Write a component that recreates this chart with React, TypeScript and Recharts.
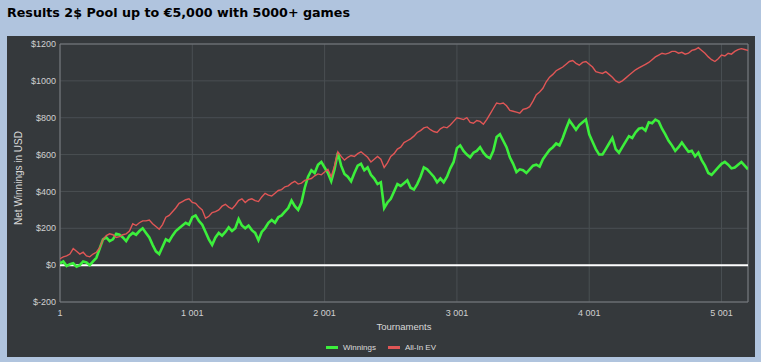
import React from 'react';
import { LineChart, Line, XAxis, YAxis, CartesianGrid, ReferenceLine, ReferenceArea, Legend } from 'recharts';

const title = 'Results 2$ Pool up to €5,000 with 5000+ games';
const seriesNames = ['Winnings', 'All-In EV'];

// Net winnings (USD) every 25 tournaments
const winnings = [
  10, 20, -5, 5, 10, -8, 0, 20, 15, 0, 20, 40,
  90, 140, 150, 130, 140, 170, 165, 150, 130, 160, 175, 165, 185, 200, 175, 150, 110, 75, 60, 100,
  140, 130, 160, 185, 200, 215, 230, 220, 260, 270,
  240, 220, 180, 140, 110, 150, 175, 160, 180, 205, 185, 200, 250, 215, 200, 215, 190, 175, 135, 180,
  200, 230, 245, 230, 260, 270, 290, 310, 350, 320, 300, 340, 420, 480, 515, 500, 545, 560,
  530, 500, 455, 520, 610, 540, 495, 480, 455, 500, 540, 550, 515, 530, 490, 470, 440, 450, 310, 340,
  360, 400, 440, 430, 445, 460, 420, 410, 440, 480, 530, 520, 500, 480, 450, 470, 450, 480, 525, 560,
  635, 650, 620, 600, 585, 610, 620, 640, 610, 590, 580, 620, 695, 710, 675, 640, 585, 550, 505, 520,
  515, 500, 520, 540, 545, 535, 575, 600, 625, 640, 660, 650, 690, 740, 785, 760, 735, 760, 775, 790,
  710, 670, 630, 600, 600, 630, 660, 690, 630, 610, 640, 670, 700, 690, 720, 740, 745, 730, 775, 770,
  790, 780, 740, 710, 675, 650, 620, 640, 665, 640, 615, 620, 590, 610, 570, 540, 500, 490, 510, 530,
  550, 560, 545, 525, 530, 545, 560, 540, 520,
];

const allInEv = [
  35, 45, 50, 60, 90, 75, 60, 70, 50, 45, 60, 70,
  95, 140, 160, 170, 165, 150, 155, 165, 170, 185, 225, 215, 230, 240, 240, 245, 225, 210, 195, 220,
  260, 270, 290, 310, 335, 345, 355, 360, 340, 335,
  315, 300, 255, 265, 285, 290, 300, 320, 330, 315, 305, 325, 350, 360, 340, 355, 360, 350, 345, 370,
  390, 380, 375, 390, 405, 410, 425, 430, 445, 455, 440, 445, 460, 465, 470, 485, 495, 490,
  505, 520, 480, 540, 615, 590, 570, 585, 595, 590, 605, 615, 600, 585, 560, 575, 590, 575, 530, 555,
  590, 605, 630, 640, 665, 675, 685, 700, 720, 730, 745, 750, 735, 725, 720, 740, 750, 745, 760, 780,
  800, 795, 790, 800, 775, 770, 785, 780, 765, 790, 820, 850, 880, 875, 880, 865, 840, 835, 830, 825,
  845, 850, 860, 890, 925, 940, 960, 995, 1020, 1035, 1055, 1065, 1075, 1090, 1105, 1110, 1095, 1085, 1100, 1105,
  1090, 1075, 1050, 1045, 1040, 1050, 1035, 1020, 1000, 990, 1000, 1015, 1030, 1045, 1060, 1070, 1080, 1090, 1100, 1115,
  1130, 1140, 1150, 1145, 1150, 1160, 1160, 1150, 1155, 1145, 1150, 1165, 1170, 1180, 1165, 1150, 1130, 1115, 1105, 1120,
  1140, 1135, 1150, 1145, 1160, 1170, 1175, 1170, 1165,
];

const games = winnings.map((_, i) => 1 + 25 * i);
const xTicks = [1, 1001, 2001, 3001, 4001, 5001];
const yTicks = [-200, 0, 200, 400, 600, 800, 1000, 1200];

const data = games.map((g, i) => ({ game: g, winnings: winnings[i], allInEv: allInEv[i] }));

const GREEN = '#3cef3c';
const RED = '#e05656';
const AXIS_FONT = '"Liberation Sans", Arial, sans-serif';

const fmtX = (n: number) => (n >= 1000 ? `${Math.floor(n / 1000)} ${String(n % 1000).padStart(3, '0')}` : String(n));
const fmtY = (v: number) => `$${v}`;

const renderLegend = () => (
  <div style={{ display: 'flex', justifyContent: 'center', alignItems: 'center', fontFamily: AXIS_FONT, fontSize: 8, color: '#dddddd', height: 12 }}>
    <span style={{ display: 'inline-block', width: 12, height: 3, background: GREEN, marginRight: 5 }} />
    <span style={{ marginRight: 12 }}>{seriesNames[0]}</span>
    <span style={{ display: 'inline-block', width: 12, height: 3, background: RED, marginRight: 5 }} />
    <span>{seriesNames[1]}</span>
  </div>
);

export default function App() {
  return (
    <div style={{ position: 'fixed', left: 0, top: 0, width: 761, height: 362, background: '#b0c4de', overflow: 'hidden' }}>
      <div style={{ position: 'absolute', left: 7, top: 5, fontFamily: '"DejaVu Sans", Verdana, sans-serif', fontWeight: 'bold', fontSize: 12.7, lineHeight: '15px', color: '#000', whiteSpace: 'nowrap' }}>
        {title}
      </div>
      <div style={{ position: 'absolute', left: 7, top: 36, width: 748, height: 321, background: '#35393c' }}>
        <LineChart width={748} height={321} data={data} margin={{ top: 8, right: 7, bottom: 25, left: 0 }}>
          <CartesianGrid stroke="#4a4f53" strokeWidth={1} />
          <XAxis
            dataKey="game"
            type="number"
            domain={[1, 5201]}
            ticks={xTicks}
            tickFormatter={fmtX}
            height={30}
            tickLine={false}
            axisLine={false}
            tickSize={0}
            tickMargin={8}
            tick={{ fill: '#d0d0d0', fontSize: 9, fontFamily: AXIS_FONT }}
            interval={0}
            allowDataOverflow
            label={(props: any) => {
              const vb = props.viewBox || {};
              return (
                <text x={vb.x + vb.width / 2} y={vb.y + 27.5} textAnchor="middle" fill="#d8d8d8" fontSize={9.5} fontFamily={AXIS_FONT}>
                  Tournaments
                </text>
              );
            }}
          />
          <YAxis
            type="number"
            domain={[-200, 1200]}
            ticks={yTicks}
            tickFormatter={fmtY}
            width={53}
            tickLine={false}
            axisLine={false}
            tickSize={0}
            tickMargin={4}
            tick={{ fill: '#d0d0d0', fontSize: 9, fontFamily: AXIS_FONT }}
            interval={0}
            label={(props: any) => {
              const vb = props.viewBox || {};
              const x = vb.x + 15;
              const y = 142;
              return (
                <text x={x} y={y} transform={`rotate(-90 ${x} ${y})`} textAnchor="middle" fill="#d8d8d8" fontSize={10} fontFamily={AXIS_FONT}>
                  Net Winnings in USD
                </text>
              );
            }}
          />
          <ReferenceArea x1={1} x2={5201} y1={-200} y2={1200} fill="none" stroke="#7a7e82" strokeWidth={1} ifOverflow="extendDomain" />
          <ReferenceLine y={0} stroke="#ffffff" strokeWidth={2} />
          <Legend layout="horizontal" verticalAlign="middle" align="center" content={renderLegend} wrapperStyle={{ left: 0, top: 305, width: 748, height: 12 }} />
          <Line type="linear" dataKey="winnings" name={seriesNames[0]} stroke={GREEN} strokeWidth={2.6} dot={false} isAnimationActive={false} />
          <Line type="linear" dataKey="allInEv" name={seriesNames[1]} stroke={RED} strokeWidth={1.4} dot={false} isAnimationActive={false} />
        </LineChart>
      </div>
    </div>
  );
}
